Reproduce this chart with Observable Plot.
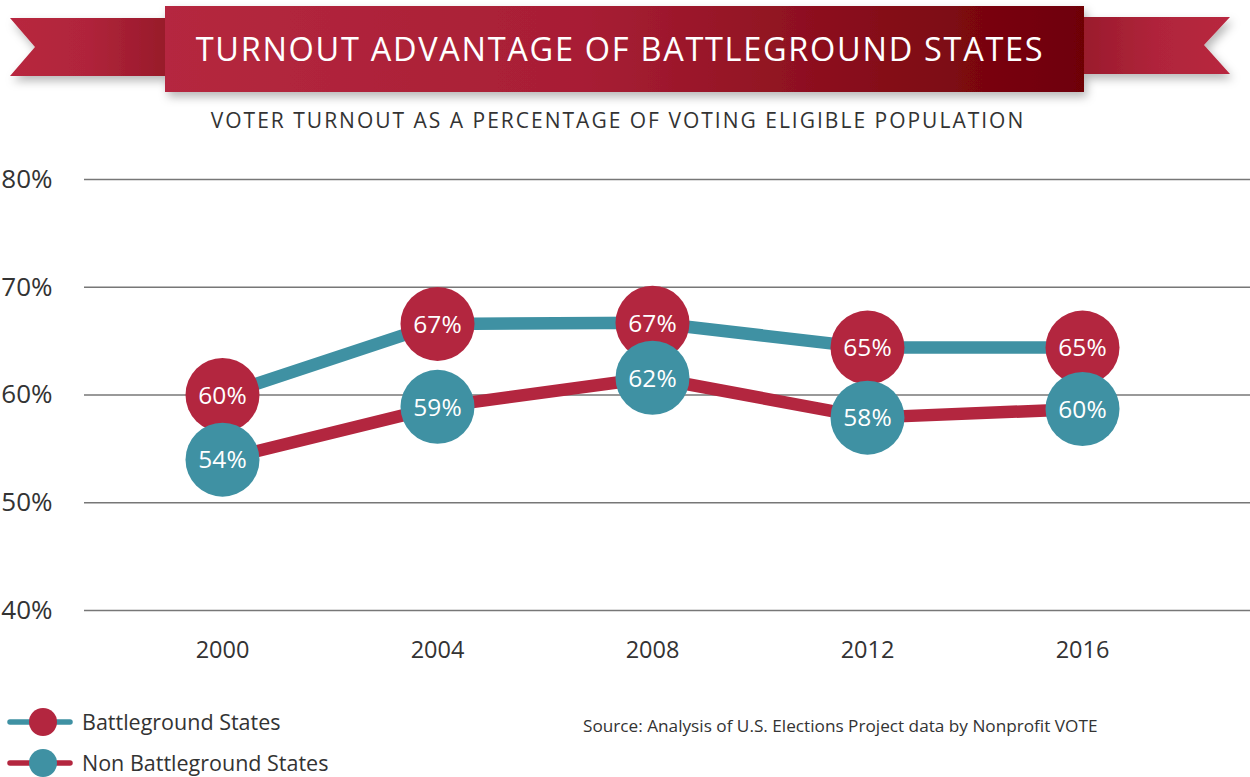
<!DOCTYPE html>
<html>
<head>
<meta charset="utf-8">
<script src="https://cdn.jsdelivr.net/npm/d3@7"></script>
<script src="https://cdn.jsdelivr.net/npm/@observablehq/plot@0.6"></script>
<style>
  html, body { margin: 0; padding: 0; background: #fff; }
  body { width: 1250px; height: 777px; position: relative; overflow: hidden; font-family: "Open Sans", "Noto Sans", sans-serif; color: #333; }
  #banner { position: absolute; left: 0; top: 0; }
  #subtitle { position: absolute; left: 0; width: 1236px; top: 106px; text-align: center; font-size: 21px; letter-spacing: 2px; color: #333; }
  #chart { position: absolute; left: 0; top: 150px; }
  #legend { position: absolute; left: 0; top: 700px; }
  #source { position: absolute; left: 583px; top: 714px; font-size: 17.2px; color: #333; }
</style>
</head>
<body>
<svg id="banner" width="1250" height="110">
  <defs>
    <linearGradient id="gMain" x1="0" x2="1" y1="0" y2="0">
      <stop offset="0" stop-color="#B5283F"/>
      <stop offset="0.45" stop-color="#A81E35"/>
      <stop offset="1" stop-color="#6E0006"/>
    </linearGradient>
    <linearGradient id="gLeft" x1="0" x2="1" y1="0" y2="0">
      <stop offset="0" stop-color="#B8283F"/>
      <stop offset="0.5" stop-color="#B0243B"/>
      <stop offset="1" stop-color="#981A2A"/>
    </linearGradient>
    <linearGradient id="gRight" x1="0" x2="1" y1="0" y2="0">
      <stop offset="0" stop-color="#9A1B2C"/>
      <stop offset="0.5" stop-color="#B0243B"/>
      <stop offset="1" stop-color="#B8283F"/>
    </linearGradient>
    <filter id="shadow" x="-10%" y="-30%" width="120%" height="180%">
      <feDropShadow dx="3" dy="5" stdDeviation="5" flood-color="#000" flood-opacity="0.28"/>
    </filter>
  </defs>
  <g filter="url(#shadow)">
    <polygon points="10,18 165,18 165,76 10,76 35,47" fill="url(#gLeft)"/>
    <polygon points="1083,17 1230,17 1204,45 1230,74 1083,74" fill="url(#gRight)"/>
    <rect x="165" y="6" width="919" height="86" fill="url(#gMain)"/>
  </g>
  <text x="620" y="61" text-anchor="middle" fill="#fff" font-size="32.5" letter-spacing="1.7" font-family="Open Sans, Noto Sans, sans-serif">TURNOUT ADVANTAGE OF BATTLEGROUND STATES</text>
</svg>
<div id="subtitle">VOTER TURNOUT AS A PERCENTAGE OF VOTING ELIGIBLE POPULATION</div>
<div id="chart"></div>
<svg id="legend" width="400" height="77"></svg>
<div id="source">Source: Analysis of U.S. Elections Project data by Nonprofit VOTE</div>
<script>
// ---- data ----
const years = [2000, 2004, 2008, 2012, 2016];
const battleground = [60, 66.6, 66.7, 64.4, 64.4];
const nonBattleground = [54, 58.9, 61.6, 57.9, 58.7];
const battlegroundLabels = ["60%", "67%", "67%", "65%", "65%"];
const nonBattlegroundLabels = ["54%", "59%", "62%", "58%", "60%"];
const yTicks = [40, 50, 60, 70, 80];
const seriesNames = ["Battleground States", "Non Battleground States"];

const RED = "#B3263F";
const TEAL = "#3F91A3";

const bg = years.map((y, i) => ({year: y, value: battleground[i], label: battlegroundLabels[i]}));
const nb = years.map((y, i) => ({year: y, value: nonBattleground[i], label: nonBattlegroundLabels[i]}));

const chart = Plot.plot({
  width: 1250,
  height: 520,
  marginLeft: 84,
  marginRight: 0,
  marginTop: 29,
  marginBottom: 60,
  style: {fontFamily: "Open Sans, Noto Sans, sans-serif", color: "#333", background: "transparent"},
  x: {type: "point", domain: years, padding: 0, insetLeft: 136, insetRight: 167},
  y: {domain: [40, 80]},
  marks: [
    Plot.ruleY(yTicks, {stroke: "#777", strokeWidth: 1.5, strokeOpacity: 1}),
    Plot.axisY({ticks: yTicks, tickFormat: d => d + "%", tickSize: 0, tickPadding: 32, fontSize: 26, label: null, fill: "#333"}),
    Plot.axisX({tickSize: 0, tickPadding: 31, fontSize: 23.5, label: null, tickFormat: d => String(d), fill: "#333"}),
    Plot.line(bg, {x: "year", y: "value", stroke: TEAL, strokeWidth: 12.5, strokeLinejoin: "round"}),
    Plot.line(nb, {x: "year", y: "value", stroke: RED, strokeWidth: 12.5, strokeLinejoin: "round"}),
    Plot.dot(bg, {x: "year", y: "value", r: 37, fill: RED, stroke: "none"}),
    Plot.text(bg, {x: "year", y: "value", text: "label", fill: "#fff", fontSize: 24.5, dy: 1}),
    Plot.dot(nb, {x: "year", y: "value", r: 37, fill: TEAL, stroke: "none"}),
    Plot.text(nb, {x: "year", y: "value", text: "label", fill: "#fff", fontSize: 24.5, dy: 1})
  ]
});
document.getElementById("chart").appendChild(chart);

// ---- legend ----
const legend = d3.select("#legend");
const legendItems = [
  {name: seriesNames[0], line: TEAL, dot: RED, y: 22},
  {name: seriesNames[1], line: RED, dot: TEAL, y: 63}
];
const g = legend.selectAll("g").data(legendItems).join("g");
g.append("line").attr("x1", 10).attr("x2", 70).attr("y1", d => d.y).attr("y2", d => d.y)
  .attr("stroke", d => d.line).attr("stroke-width", 5.5).attr("stroke-linecap", "round");
g.append("circle").attr("cx", 43).attr("cy", d => d.y).attr("r", 14).attr("fill", d => d.dot);
g.append("text").attr("x", 82).attr("y", d => d.y).attr("dy", "0.35em")
  .attr("font-size", 21.5).attr("fill", "#333").attr("font-family", "Open Sans, Noto Sans, sans-serif")
  .text(d => d.name);
</script>
</body>
</html>
